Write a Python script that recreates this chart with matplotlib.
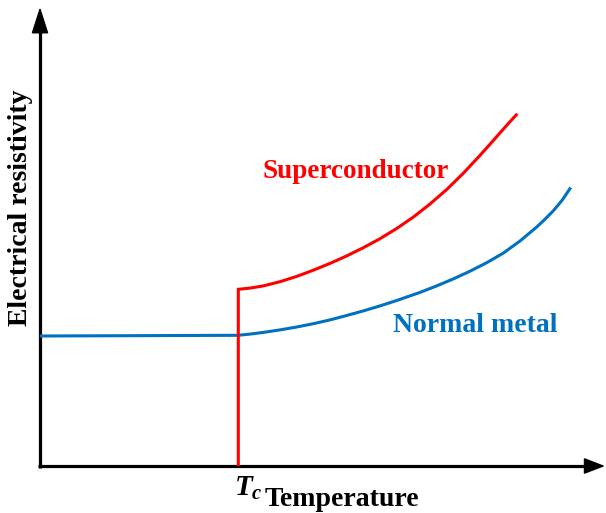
import matplotlib
matplotlib.use("Agg")
import matplotlib.pyplot as plt
from matplotlib.patches import FancyArrowPatch

plt.rcParams['font.family'] = ['Liberation Serif', 'DejaVu Serif']
plt.rcParams['mathtext.fontset'] = 'custom'
plt.rcParams['mathtext.it'] = 'Liberation Serif:italic:bold'
plt.rcParams['mathtext.rm'] = 'Liberation Serif:bold'

# ---- data (arbitrary units) ----
Tc = 198.3
normal_T = [0, 198, 210, 223.3, 240, 256.7, 273.3, 290, 306.7, 323.3, 340, 356.7,
            380, 396.7, 413.3, 430, 446.7, 463.3, 480, 496.7, 505, 513.3, 522, 530.7]
normal_rho = [130, 130.7, 131.9, 133.6, 136.1, 139.0, 142.3, 146.1, 150.5, 155.1, 160.1,
              165.5, 173.6, 180.1, 187.1, 194.8, 203.3, 212.9, 225.0, 239.0, 246.8,
              255.2, 265.6, 278.5]
super_T = [Tc, Tc, 210, 223.3, 240, 256.7, 273.3, 290, 306.7, 323.3, 340, 356.7,
           373.3, 390, 406.7, 423.3, 440, 450, 460, 468.7, 477.3]
super_rho = [0, 176.7, 177.9, 180.1, 184.3, 189.6, 195.8, 202.6, 210.1, 218.3, 227.3,
             237.5, 248.9, 262.0, 276.5, 292.8, 310.6, 321.8, 333.1, 342.9, 352.3]

x_label = "Temperature"
y_label = "Electrical resistivity"
tc_label = r"$T_c$"
super_label = "Superconductor"
normal_label = "Normal metal"

RED = "#FF0000"
BLUE = "#0070C0"

W, H = 606, 513
fig = plt.figure(figsize=(W / 100, H / 100), dpi=100)
ax = fig.add_axes([0, 0, 1, 1])
ax.set_xlim(-40, W - 40)
ax.set_ylim(466 - H, 466)
ax.axis('off')

lw = 2.2
ax.plot(normal_T, normal_rho, color=BLUE, lw=lw, solid_capstyle='butt', zorder=3)
ax.plot(super_T, super_rho, color=RED, lw=lw, solid_joinstyle='miter',
        solid_capstyle='butt', zorder=4)

# axes with arrow heads
x_end, y_end = 565, 459
ax.plot([-1.5, x_end - 15], [0, 0], color='black', lw=2.3, solid_capstyle='butt', zorder=2)
ax.plot([0, 0], [-1.5, y_end - 18], color='black', lw=2.3, solid_capstyle='butt', zorder=2)
xa = FancyArrowPatch((x_end - 40, 0), (x_end, 0),
                     arrowstyle='-|>,head_length=1.3,head_width=0.5',
                     mutation_scale=10, lw=1.2, color='black',
                     shrinkA=0, shrinkB=0, zorder=2)
ya = FancyArrowPatch((0, y_end - 50), (0, y_end),
                     arrowstyle='-|>,head_length=1.65,head_width=0.53',
                     mutation_scale=10, lw=1.2, color='black',
                     shrinkA=0, shrinkB=0, zorder=2)
ax.add_patch(xa)
ax.add_patch(ya)

ax.text(301.5, -40, x_label, ha='center', va='baseline',
        fontsize=20, fontweight='bold', color='black')
ax.text(208, -30, tc_label, ha='center', va='baseline',
        fontsize=21, color='black')
ax.text(-19.5, 258.5, y_label, ha='center', va='center', rotation=90,
        fontsize=20, fontweight='bold', color='black')
ax.text(315.4, 288.3, super_label, ha='center', va='baseline',
        fontsize=19.5, fontweight='bold', color=RED)
ax.text(434.9, 134.3, normal_label, ha='center', va='baseline',
        fontsize=20, fontweight='bold', color=BLUE)

fig.savefig("out.png", dpi=100)
